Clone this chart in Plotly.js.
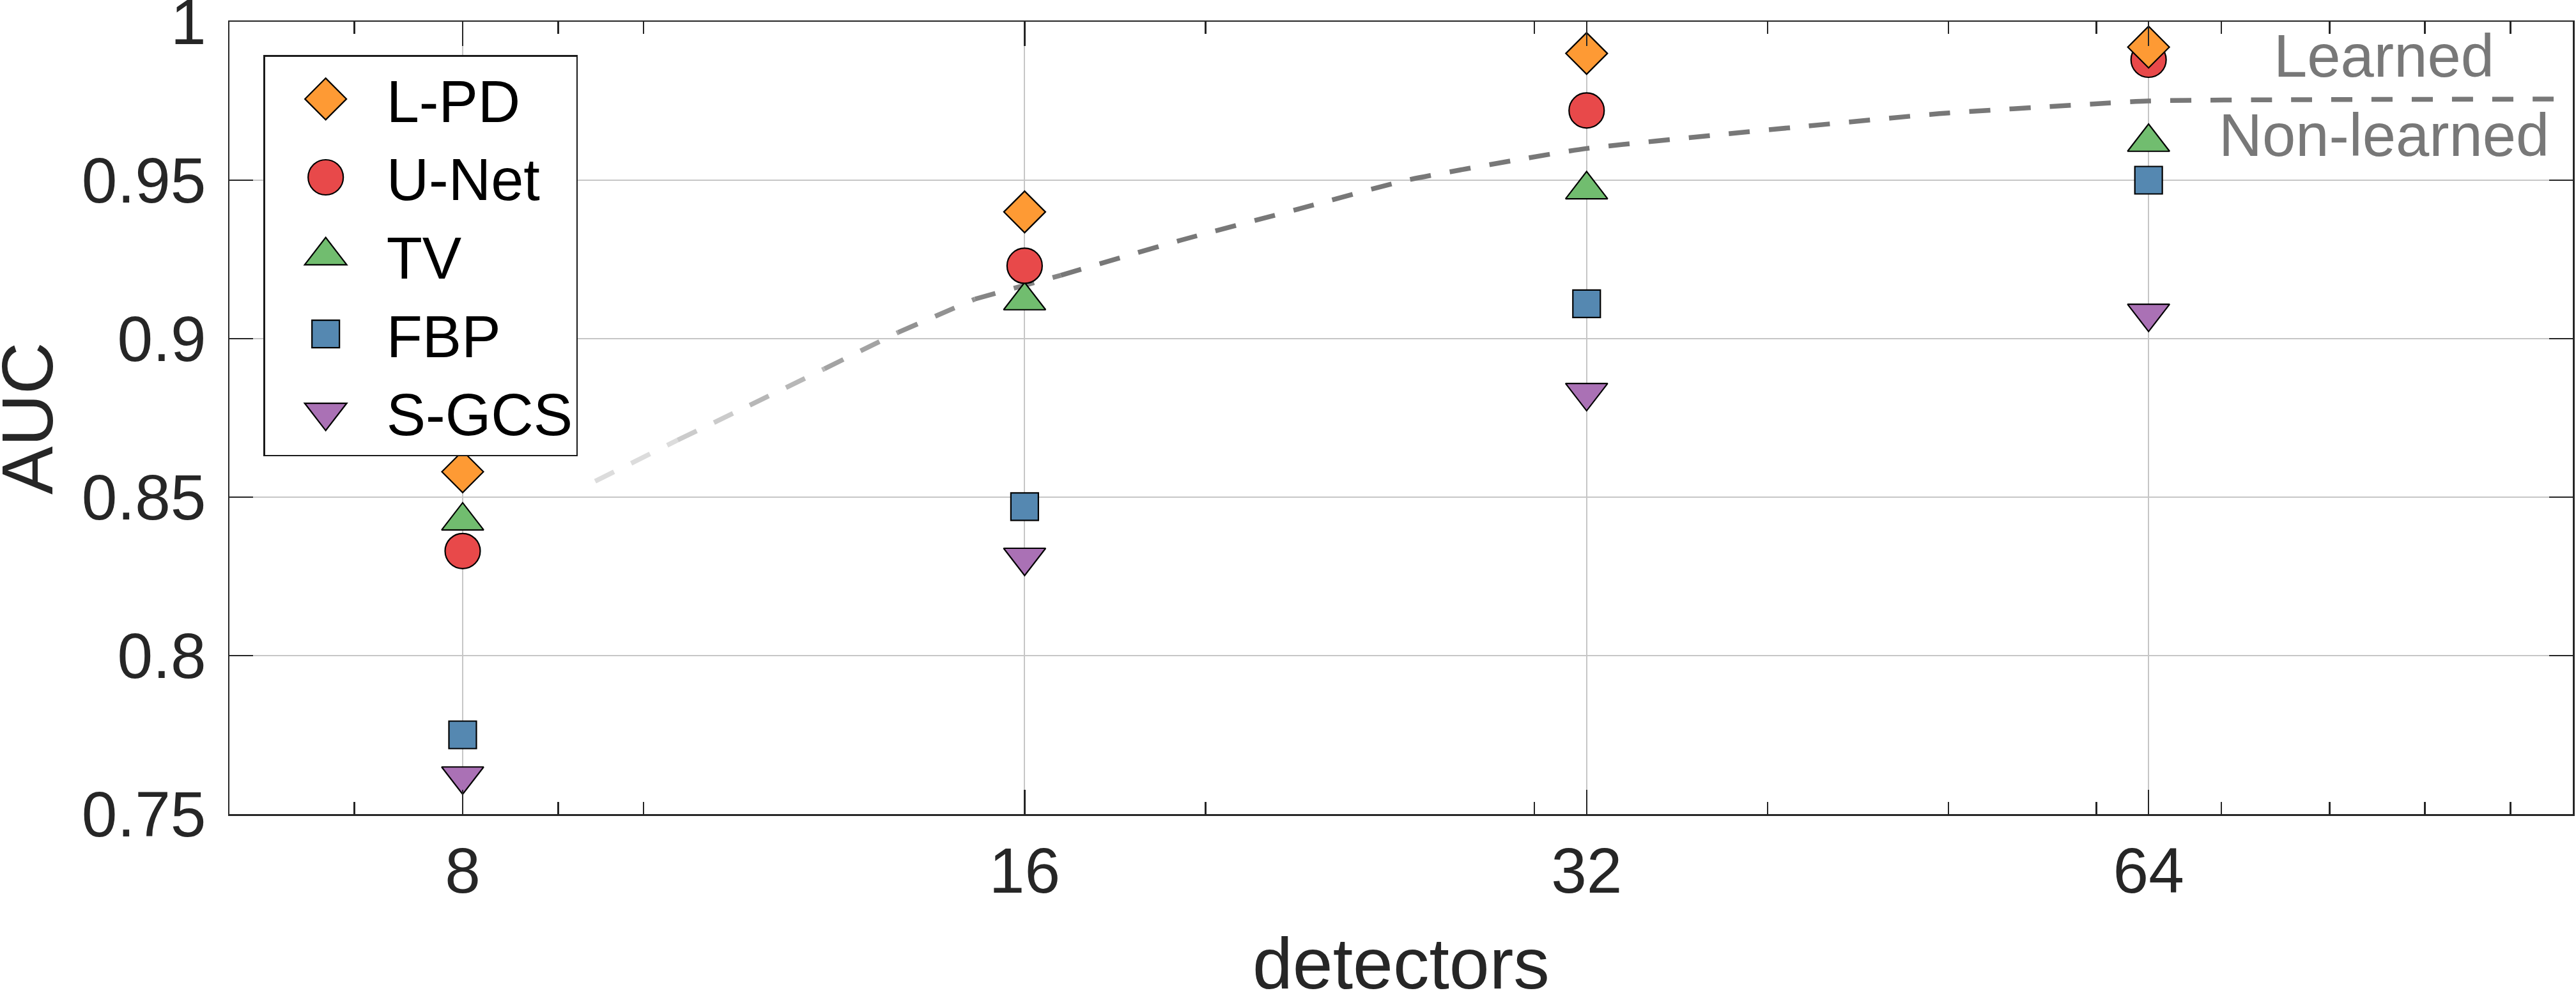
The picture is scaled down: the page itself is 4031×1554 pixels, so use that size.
<!DOCTYPE html>
<html>
<head>
<meta charset="utf-8">
<script src="https://cdn.plot.ly/plotly-3.0.1.min.js"></script>
<style>
  html, body { margin: 0; padding: 0; background: #fff; }
  #auc { width: 4031px; height: 1554px; }
</style>
</head>
<body>
<div id="auc"></div>
<script>
// number of detectors (x axis, log scale)
const detectors = [8, 16, 32, 64];

// AUC per reconstruction method
const aucLPD  = [0.858, 0.940, 0.990, 0.992];
const aucUNet = [0.833, 0.923, 0.972, 0.988];
const aucTV   = [0.8425, 0.912, 0.947, 0.962];
const aucFBP  = [0.775, 0.847, 0.911, 0.950];
const aucSGCS = [0.762, 0.831, 0.883, 0.908];

// dashed learned / non-learned boundary
const boundX = [9.42, 10.43, 11.40, 12.50, 13.69, 15.05, 16.73, 19.38, 22.46, 25.64, 29.76, 32, 37.89, 41.88, 49.45, 59.57, 64, 76.3, 106.3];
const boundY = [0.855, 0.868, 0.879, 0.8905, 0.902, 0.9125, 0.920, 0.931, 0.941, 0.950, 0.957, 0.960, 0.9645, 0.967, 0.971, 0.974, 0.975, 0.9754, 0.9756];

const xTickText = ['8', '16', '32', '64'];
const xMinorTicks = [7, 9, 10, 20, 30, 40, 50, 60, 70, 80, 90, 100];
const yTicks = [0.75, 0.8, 0.85, 0.9, 0.95, 1];
const yTickText = ['0.75', '0.8', '0.85', '0.9', '0.95', '1'];
const regionLabels = ['Learned', 'Non-learned'];
const xTitle = 'detectors';
const yTitle = 'AUC';

const FONT = '"Liberation Sans", Arial, Helvetica, sans-serif';
const AXIS = '#262626';
const DASH = '33px,30px';

// the line fades in from the left, one colour per piece
const fade = ['#dcdcdc', '#cbcbcb', '#b7b7b7', '#a3a3a3', '#929292', '#858585'];
const dark = '#787878';

let data = [];
for (let i = 0; i < fade.length; i++) {
    data.push({
        x: boundX.slice(i, i + 2),
        y: boundY.slice(i, i + 2),
        mode: 'lines',
        line: { color: fade[i], width: 7.5, dash: DASH },
        showlegend: false,
        hoverinfo: 'skip'
    });
}
data.push({
    x: boundX.slice(fade.length),
    y: boundY.slice(fade.length),
    mode: 'lines',
    line: { color: dark, width: 7.5, dash: DASH, shape: 'spline', smoothing: 0.6 },
    showlegend: false,
    hoverinfo: 'skip'
});

// drawn bottom to top; legend is reversed so L-PD comes first
const methods = [
    { name: 'S-GCS', y: aucSGCS, symbol: 'triangle-down', color: '#aa71b5', size: 57 },
    { name: 'FBP',   y: aucFBP,  symbol: 'square',        color: '#5588b1', size: 43 },
    { name: 'TV',    y: aucTV,   symbol: 'triangle-up',   color: '#71bd6f', size: 57 },
    { name: 'U-Net', y: aucUNet, symbol: 'circle',        color: '#e8494a', size: 55 },
    { name: 'L-PD',  y: aucLPD,  symbol: 'diamond',       color: '#fe9a34', size: 50 }
];

methods.forEach(m => {
    data.push({
        x: detectors,
        y: m.y,
        name: m.name,
        mode: 'markers',
        marker: { symbol: m.symbol, color: m.color, size: m.size, line: { color: '#000', width: 2.2 } }
    });
});

const layout = {
    width: 4031,
    height: 1554,
    margin: { l: 359, r: 5, t: 34, b: 280, pad: 0 },
    paper_bgcolor: '#fff',
    plot_bgcolor: '#fff',
    font: { family: FONT, color: AXIS, size: 100 },
    showlegend: true,
    legend: {
        x: 0.0145, y: 0.958, xanchor: 'left', yanchor: 'top',
        traceorder: 'reversed',
        bgcolor: '#fff',
        bordercolor: '#1a1a1a',
        borderwidth: 2.5,
        itemwidth: 180,
        font: { family: FONT, size: 92, color: '#000' }
    },
    xaxis: {
        type: 'log',
        range: [Math.log10(6), Math.log10(108)],
        tickmode: 'array',
        tickvals: detectors,
        ticktext: xTickText,
        ticks: 'inside',
        ticklen: 38,
        tickwidth: 2.5,
        tickcolor: AXIS,
        ticklabelstandoff: 0,
        ticklabeloverflow: 'allow',
        tickfont: { size: 100, color: AXIS },
        minor: { tickmode: 'array', tickvals: xMinorTicks, ticks: 'inside', ticklen: 19, tickwidth: 2.5, tickcolor: AXIS, showgrid: false },
        showline: true, linecolor: AXIS, linewidth: 2.5, mirror: 'ticks',
        showgrid: true, gridcolor: '#c6c6c6', gridwidth: 2,
        zeroline: false
    },
    yaxis: {
        range: [0.75, 1],
        tickmode: 'array',
        tickvals: yTicks,
        ticktext: yTickText,
        ticks: 'inside',
        ticklen: 37,
        tickwidth: 2.5,
        tickcolor: AXIS,
        ticklabelstandoff: 14,
        ticklabeloverflow: 'allow',
        tickfont: { size: 100, color: AXIS },
        showline: true, linecolor: AXIS, linewidth: 2.5, mirror: 'ticks',
        showgrid: true, gridcolor: '#c6c6c6', gridwidth: 2,
        zeroline: false
    },
    annotations: [
        { text: xTitle, xref: 'paper', yref: 'paper', x: 0.5, y: -0.189, xanchor: 'center', yanchor: 'middle', showarrow: false, font: { size: 113, color: AXIS } },
        { text: yTitle, xref: 'paper', yref: 'paper', x: -0.0862, y: 0.5, textangle: -90, xanchor: 'center', yanchor: 'middle', showarrow: false, font: { size: 113, color: AXIS } },
        { text: regionLabels[0], xref: 'paper', yref: 'paper', x: 0.9193, y: 0.957, xanchor: 'center', yanchor: 'middle', showarrow: false, font: { size: 94, color: dark } },
        { text: regionLabels[1], xref: 'paper', yref: 'paper', x: 0.9193, y: 0.857, xanchor: 'center', yanchor: 'middle', showarrow: false, font: { size: 94, color: dark } }
    ]
};

Plotly.newPlot('auc', data, layout, { staticPlot: true, displayModeBar: false }).then(gd => {
    // plotly caps legend symbols at 16px; blow them up to the plotted marker size
    gd.querySelectorAll('.legend .traces').forEach(tr => {
        const d = tr.__data__;
        const trace = d && d[0] && d[0].trace;
        const path = tr.querySelector('path.scatterpts');
        if (!trace || !path || !trace.marker) return;
        const k = trace.marker.size / 16;
        const t = path.getAttribute('transform') || '';
        path.setAttribute('transform', t + ' scale(' + k + ')');
        path.setAttribute('vector-effect', 'non-scaling-stroke');
    });
});
</script>
</body>
</html>
